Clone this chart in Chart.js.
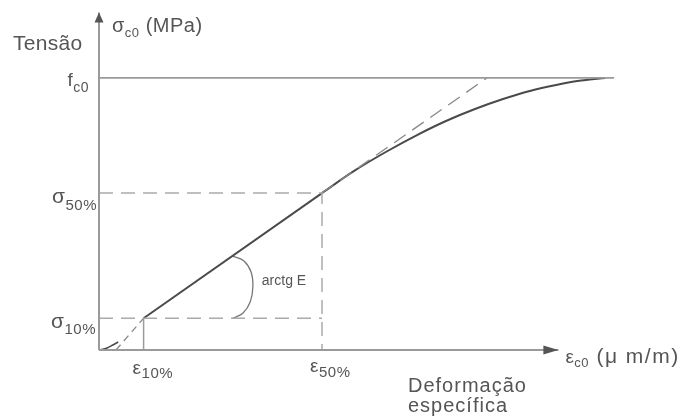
<!DOCTYPE html>
<html>
<head>
<meta charset="utf-8">
<script src="https://cdn.jsdelivr.net/npm/chart.js@4/dist/chart.umd.min.js"></script>
<style>
  html, body { margin: 0; background: #fff; }
  #wrap { width: 689px; height: 418px; }
</style>
</head>
<body>
<div id="wrap"><canvas id="myChart"></canvas></div>
<script>
// characteristic values (strain in arbitrary units, stress in MPa)
const eps10 = 1.0;
const eps50 = 5.0;
const sig10 = 3.5;
const sig50 = 17.3;
const fc0 = 30;

// stress-strain curve
const startEps = [0, 0.18, 0.31, 0.43];
const startSig = [0, 0.22, 0.55, 0.88];
const linearEps = [eps10, eps50];
const linearSig = [sig10, sig50];
const upperEps = [5.0, 5.72, 6.43, 7.13, 7.78, 8.43, 9.06, 9.66, 10.25, 10.81, 11.35];
const upperSig = [17.3, 19.74, 21.83, 23.70, 25.25, 26.57, 27.67, 28.56, 29.22, 29.71, 30.0];

// tangent extensions (dashed)
const tangentLowEps = [0.38, eps10];
const tangentLowSig = [0, sig10];
const tangentHighEps = [eps50, 8.7];
const tangentHighSig = [sig50, fc0];

// angle mark (arctg E)
const arcEps = [3.00, 3.25, 3.41, 3.45, 3.39, 3.23, 3.00];
const arcSig = [10.36, 9.81, 8.60, 6.95, 5.29, 4.08, 3.5];

// axis ends
const xAxisEnd = 10.3;
const yAxisEnd = 37.2;
const fc0LineEnd = 11.55;

const zip = (xs, ys) => xs.map((v, i) => ({ x: v, y: ys[i] }));

const gray = '#9a9a9a';
const dashGray = '#aaaaaa';
const curveCol = '#4a4a4a';
const textCol = '#555555';
const dash = [14, 8];

const lineDs = (data, color, width, extra) => Object.assign({
    data: data,
    borderColor: color,
    borderWidth: width,
    pointRadius: 0,
    fill: false,
    showLine: true,
    tension: 0,
    clip: false
}, extra || {});

// parts: [text, size, dy, letterSpacing]
const drawRich = (ctx, x, y, parts, align) => {
    const setFont = p => {
        ctx.font = p[1] + 'px "Liberation Sans", Arial, sans-serif';
        ctx.letterSpacing = (p[3] || 0.5) + 'px';
    };
    let total = 0;
    parts.forEach(p => {
        setFont(p);
        total += ctx.measureText(p[0]).width;
    });
    let cx = align === 'right' ? x - total : x;
    parts.forEach(p => {
        setFont(p);
        ctx.fillText(p[0], cx, y + p[2]);
        cx += ctx.measureText(p[0]).width;
    });
};

const labelPlugin = {
    id: 'labelPlugin',
    afterDatasetsDraw(chart) {
        const { ctx, scales: { x, y } } = chart;
        const px = v => x.getPixelForValue(v);
        const py = v => y.getPixelForValue(v);
        ctx.save();

        // arrow heads
        ctx.fillStyle = '#555';
        const ox = px(0);
        const topY = py(yAxisEnd);
        ctx.beginPath();
        ctx.moveTo(ox, topY);
        ctx.lineTo(ox - 4.5, topY + 10);
        ctx.lineTo(ox + 4.5, topY + 10);
        ctx.closePath();
        ctx.fill();
        const tipX = px(xAxisEnd);
        const oy = py(0);
        ctx.beginPath();
        ctx.moveTo(tipX, oy);
        ctx.lineTo(tipX - 15, oy - 4.5);
        ctx.lineTo(tipX - 15, oy + 4.5);
        ctx.closePath();
        ctx.fill();

        // texts
        ctx.fillStyle = textCol;
        ctx.textBaseline = 'alphabetic';
        drawRich(ctx, ox - 86, 50, [['Tensão', 21, 0, 0.3]]);
        drawRich(ctx, ox + 13, 32, [['σ', 20, 0], ['c0', 13, 5], [' (MPa)', 20, 0]]);
        drawRich(ctx, ox - 10, py(fc0) + 8, [['f', 19, 0], ['c0', 14, 6]], 'right');
        drawRich(ctx, ox - 2, py(sig50) + 10, [['σ', 21, 0], ['50%', 15, 7]], 'right');
        drawRich(ctx, ox - 3, py(sig10) + 10, [['σ', 21, 0], ['10%', 15, 6]], 'right');
        drawRich(ctx, px(eps10) - 11, oy + 24, [['ε', 19, 0], ['10%', 15, 4]]);
        drawRich(ctx, px(eps50) - 12, oy + 22, [['ε', 19, 0], ['50%', 15, 5]]);
        drawRich(ctx, tipX + 7, oy + 13, [['ε', 19, 0], ['c0', 13, 4], [' (μ m/m)', 21, 0, 1.5]]);
        drawRich(ctx, 408, oy + 42, [['Deformação', 20, 0, 1]]);
        drawRich(ctx, 408, oy + 62, [['específica', 20, 0, 1]]);
        drawRich(ctx, px(3.0) + 29, py(7.4) + 2, [['arctg E', 14, 0, 0.01]]);
        ctx.restore();
    }
};

const ctx = document.getElementById('myChart');

new Chart(ctx, {
    type: 'scatter',
    data: {
        datasets: [
            lineDs([{ x: 0, y: 0 }, { x: 0, y: yAxisEnd }], gray, 2),
            lineDs([{ x: 0, y: 0 }, { x: xAxisEnd, y: 0 }], gray, 2),
            lineDs([{ x: 0, y: fc0 }, { x: fc0LineEnd, y: fc0 }], gray, 1.6),
            lineDs([{ x: 0, y: sig50 }, { x: eps50, y: sig50 }, { x: eps50, y: 0 }], dashGray, 1.5, { borderDash: dash }),
            lineDs([{ x: 0, y: sig10 }, { x: eps50, y: sig10 }], dashGray, 1.5, { borderDash: dash }),
            lineDs([{ x: eps10, y: 0 }, { x: eps10, y: sig10 }], gray, 1.5),
            lineDs(zip(tangentLowEps, tangentLowSig), '#888', 1.3, { borderDash: [7, 5] }),
            lineDs(zip(tangentHighEps, tangentHighSig), '#888', 1.3, { borderDash: dash }),
            lineDs(zip(startEps, startSig), curveCol, 1.6, { cubicInterpolationMode: 'monotone' }),
            lineDs(zip(linearEps, linearSig), curveCol, 2),
            lineDs(zip(upperEps, upperSig), curveCol, 2, { cubicInterpolationMode: 'monotone' }),
            lineDs(zip(arcEps, arcSig), '#777', 1.3, { tension: 0.4 })
        ]
    },
    options: {
        responsive: true,
        maintainAspectRatio: false,
        animation: false,
        layout: { padding: { left: 99, right: 54.8, top: 5.34, bottom: 68 } },
        plugins: { legend: { display: false }, tooltip: { enabled: false } },
        scales: {
            x: { type: 'linear', min: 0, max: 12, display: false },
            y: { type: 'linear', min: 0, max: 38, display: false }
        }
    },
    plugins: [labelPlugin]
});
</script>
</body>
</html>
